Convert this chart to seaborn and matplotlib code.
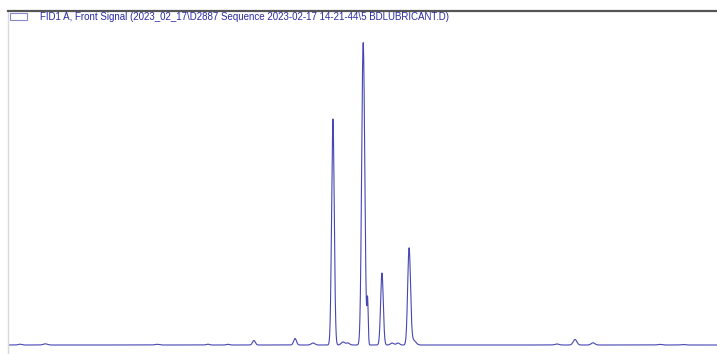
import numpy as np
import pandas as pd
import matplotlib
matplotlib.use("Agg")
import matplotlib.pyplot as plt
import seaborn as sns
from matplotlib.patches import Rectangle

# Peak table (retention time in min, height, sigma in min)
peak_rt = [0.59, 1.83, 7.36, 9.87, 10.86, 12.14, 14.17, 15.06, 16.04, 16.54, 16.78,
           17.53, 17.62, 17.75, 18.46, 18.96, 19.25, 19.80, 20.00, 27.10, 27.99, 28.88, 32.19, 33.32]
peak_height = [0.8, 1.2, 0.7, 0.8, 0.7, 4.5, 6.5, 2.0, 226.0, 3.0, 2.0,
               296.0, 30.0, 45.0, 72.0, 2.0, 2.0, 96.0, 5.0, 1.0, 5.5, 2.2, 0.6, 0.5]
peak_sigma = [0.08, 0.10, 0.10, 0.08, 0.08, 0.07, 0.07, 0.09, 0.065, 0.09, 0.08,
              0.072, 0.05, 0.032, 0.065, 0.08, 0.08, 0.07, 0.12, 0.10, 0.09, 0.09, 0.10, 0.10]

title = "FID1 A, Front Signal (2023_02_17\\D2887 Sequence 2023-02-17 14-21-44\\5 BDLUBRICANT.D)"

t = np.linspace(0, 35, 8000)
signal = np.zeros_like(t)
for rt, h, s in zip(peak_rt, peak_height, peak_sigma):
    signal += h * np.exp(-0.5 * ((t - rt) / s) ** 2)
df = pd.DataFrame({"time": t, "signal": signal})

sns.set_theme(style="white")
plt.rcParams["font.family"] = ["Liberation Sans", "DejaVu Sans"]

fig = plt.figure(figsize=(7.17, 3.54), dpi=100)
ax = fig.add_axes([8 / 717, 0, 709 / 717, 343 / 354])
sns.lineplot(data=df, x="time", y="signal", ax=ax, color="#4646b4", linewidth=0.8)
ax.set_xlim(0, 35)
ax.set_ylim(-9, 334)
ax.set_xticks([])
ax.set_yticks([])
ax.set_xlabel("")
ax.set_ylabel("")
for side in ["right", "bottom"]:
    ax.spines[side].set_visible(False)
ax.spines["top"].set_color("#555555")
ax.spines["top"].set_linewidth(1.6)
ax.spines["left"].set_color("#d9d9d9")
ax.spines["left"].set_linewidth(1.0)

fig.patches.append(Rectangle((10 / 717, 1 - 19.5 / 354), 17 / 717, 7 / 354,
                             transform=fig.transFigure, facecolor="white",
                             edgecolor="#8888cc", linewidth=0.8))
fig.text(40 / 717, 1 - 17.5 / 354, title, color="#2a2aa6", fontsize=7.06,
         ha="left", va="center")

fig.savefig("out.png", dpi=100, facecolor="white")
